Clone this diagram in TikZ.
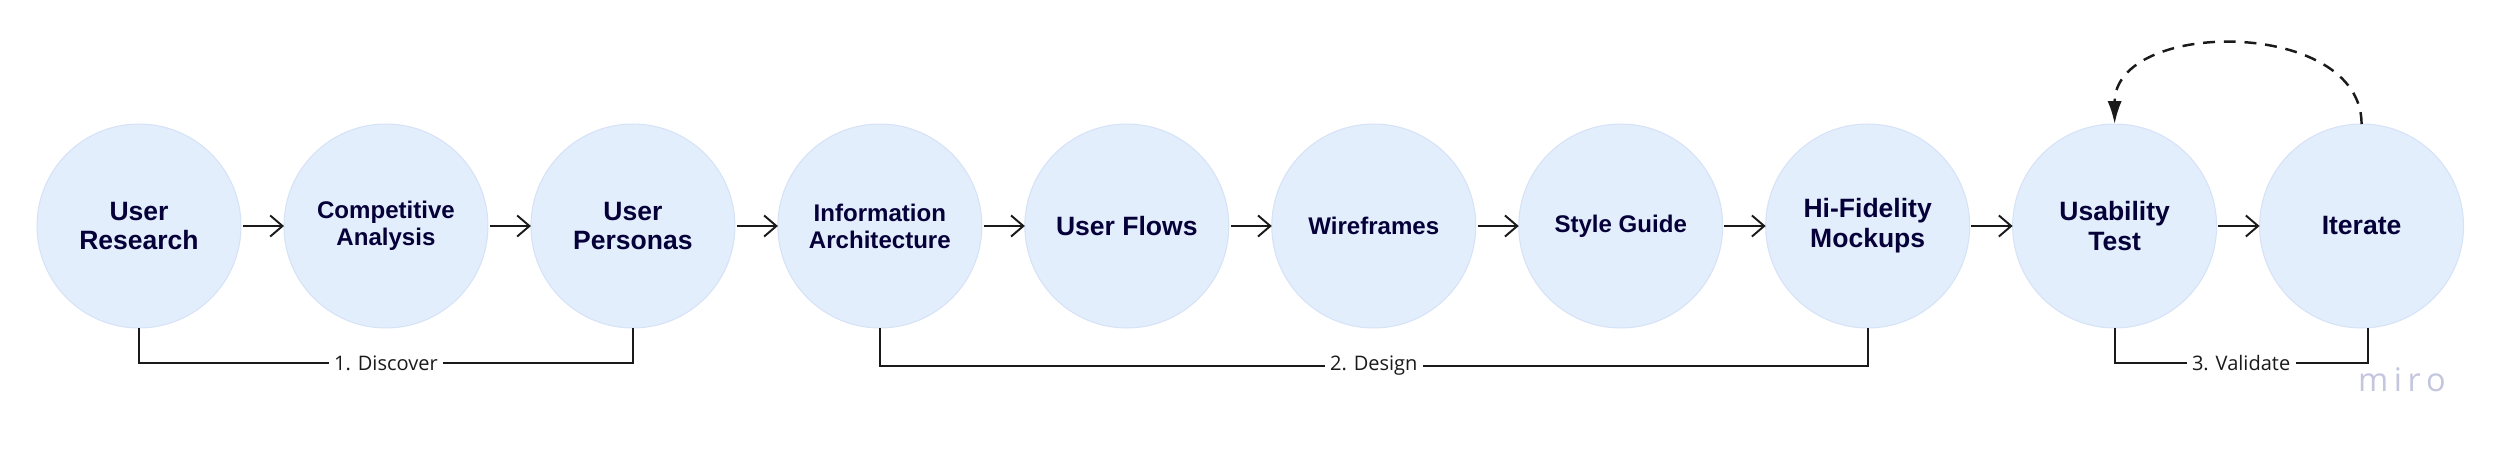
\documentclass[tikz,border=0pt]{standalone}
\usepackage{fontspec}
\setmainfont{Liberation Sans}
\newfontfamily\lblfont{Open Sans}
\usepackage{tikz}
\usetikzlibrary{positioning, arrows.meta}

\definecolor{navy}{HTML}{050038}
\definecolor{stagefill}{HTML}{E3EEFD}
\definecolor{stageline}{HTML}{D6E2F6}
\definecolor{ink}{HTML}{1A1A1A}
\definecolor{mirogray}{HTML}{C3C6DD}

\begin{document}
\begin{tikzpicture}[x=0.02cm, y=0.02cm, node distance=0.86cm,
        stage/.style={circle, fill=stagefill, draw=stageline, line width=0.6pt,
            minimum size=4.08cm, inner sep=0pt, outer sep=0pt, align=center,
            text=navy, font=\bfseries\fontsize{15.1}{17}\selectfont},
        smalltxt/.style={font=\bfseries\fontsize{13.7}{15.4}\selectfont},
        flow/.style={-{Straight Barb[length=7pt, width=12pt]}, line width=1.1pt, draw=ink},
        bracket/.style={line width=1.1pt, draw=ink},
        phase/.style={fill=white, inner xsep=3pt, inner ysep=1pt, text=ink,
            font=\lblfont\fontsize{11.4}{13}\selectfont},
        redo/.style={-{Latex[length=13pt, width=8pt]}, line width=1.4pt, draw=ink,
            dash pattern=on 6.8pt off 5pt}]
    \useasboundingbox (0,0) rectangle (2500,450);

    % stages
    \node[stage] (ur) at (139,224) {User\\Research};
    \node[stage, smalltxt, right=of ur] (ca) {Competitive\\Analysis};
    \node[stage, right=of ca] (up) {User\\Personas};
    \node[stage, smalltxt, right=of up] (ia) {Information\\Architecture};
    \node[stage, right=of ia] (uf) {User Flows};
    \node[stage, smalltxt, right=of uf] (wf) {Wireframes};
    \node[stage, smalltxt, right=of wf] (sg) {Style Guide};
    \node[stage, right=of sg] (hf) {Hi-Fidelity\\Mockups};
    \node[stage, right=of hf] (ut) {Usability\\Test};
    \node[stage, right=of ut] (it) {Iterate};

    \foreach \a/\b in {ur/ca, ca/up, up/ia, ia/uf, uf/wf, wf/sg, sg/hf, hf/ut, ut/it} {
            \draw[flow, shorten <=1pt] (\a.east) -- (\b.west);
        };

    % phases
    \draw[bracket] (ur.south) -- ++(0,-35) -| node[pos=0.25, phase] {1. Discover} (up.south);
    \draw[bracket] (ia.south) -- ++(0,-38) -| node[pos=0.25, phase] {2. Design} (hf.south);
    \draw[bracket] (ut.south) -- ++(0,-35) -| node[pos=0.25, phase] {3. Validate} ([xshift=0.12cm]it.south);

    % loop back
    \draw[redo] (it.north) .. controls +(0,106) and +(0,106) .. (ut.north);

    \node[text=mirogray, font=\lblfont\fontsize{18.5}{20}\selectfont] (miro) at (2402,70) {m\,i\,r\,o};
\end{tikzpicture}
\end{document}
